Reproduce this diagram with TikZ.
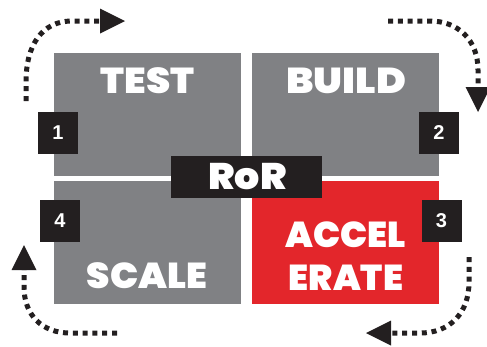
\documentclass[tikz,border=0pt]{standalone}
\usepackage{fontspec}
\newfontfamily\heavy{Poppins Black}
\newfontfamily\numfont{Liberation Sans Bold}
\usetikzlibrary{arrows.meta}
\definecolor{boxgrey}{HTML}{808184}
\definecolor{boxred}{HTML}{E3262B}
\definecolor{ink}{HTML}{231F20}
\tikzset{
  panel/.style={draw=none, inner sep=0pt, minimum width=187pt, minimum height=123pt, fill=boxgrey},
  label/.style={text=white, font=\heavy\fontsize{36}{36}\selectfont, inner sep=0pt, align=center},
  numbox/.style={fill=ink, text=white, inner sep=0pt, minimum width=40pt, minimum height=42pt, font=\numfont\fontsize{20}{20}\selectfont},
  dotarrow/.style={draw=ink, line width=5pt, dash pattern=on 5pt off 4.8pt, -{Triangle[length=25pt,width=25pt,line width=0pt,fill=ink]}}
}
\begin{document}
\begin{tikzpicture}[x=1pt,y=-1pt]
\useasboundingbox (0,0) rectangle (487,346);
% panels
\node[panel] (test) at (147.5,114) {};
\node[panel] (build) at (345.5,114) {};
\node[panel] (scale) at (147.5,242.5) {};
\node[panel, fill=boxred] (accel) at (345.5,242.5) {};
% panel texts
\node[label, xscale=1.08] (ttest) at (147.5,81) {TEST};
\node[label, xscale=1.12] (tbuild) at (346,81) {BUILD};
\node[label, xscale=1.04] (tscale) at (147,276) {SCALE};
\node[label] (taccel) at (346,235) {ACCEL};
\node[label] (terate) at (346,278) {ERATE};
% RoR
\node[fill=ink, inner sep=0pt, minimum width=151pt, minimum height=42pt] (ror) at (246.5,177) {};
\node[label, font=\heavy\fontsize{37}{37}\selectfont, xscale=1.07] (tror) at (247.5,177) {RoR};
% numbers
\node[numbox] (n1) at (58,133) {1};
\node[numbox] (n2) at (439,133) {2};
\node[numbox] (n3) at (441.5,221) {3};
\node[numbox] (n4) at (60,221) {4};
% arrows
\coordinate (a1s) at (26,101);
\coordinate (a1e) at (125,21);
\coordinate (a2s) at (388,21);
\coordinate (a2e) at (478,112);
\coordinate (a3s) at (469,257);
\coordinate (a3e) at (366,333);
\coordinate (a4s) at (117,333);
\coordinate (a4e) at (24,245);
\draw[dotarrow] (a1s) -- (26,82) .. controls (26,45) and (42,21) .. (72,21) -- (a1e);
\draw[dotarrow] (a2s) -- (430,21) .. controls (458,21) and (478,40) .. (478,70) -- (a2e);
\draw[dotarrow] (a3s) -- (469,282) .. controls (469,313) and (450,333) .. (420,333) -- (a3e);
\draw[dotarrow] (a4s) -- (70,333) .. controls (42,333) and (24,315) .. (24,287) -- (a4e);
\end{tikzpicture}
\end{document}
